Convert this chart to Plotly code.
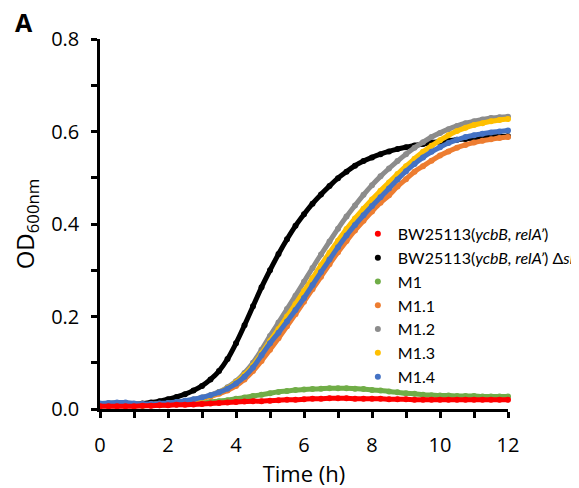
import plotly.graph_objects as go

# sampling times (h)
time_h = [0, 0.25, 0.5, 0.75, 1, 1.25, 1.5, 1.75, 2, 2.25, 2.5, 2.75, 3, 3.25, 3.5, 3.75,
          4, 4.25, 4.5, 4.75, 5, 5.25, 5.5, 5.75, 6, 6.25, 6.5, 6.75, 7, 7.25, 7.5, 7.75,
          8, 8.25, 8.5, 8.75, 9, 9.25, 9.5, 9.75, 10, 10.25, 10.5, 10.75, 11, 11.25, 11.5, 11.75, 12]

# OD600 readings per strain
od_wt = [0.006, 0.006, 0.006, 0.006, 0.006, 0.007, 0.007, 0.008, 0.008, 0.009, 0.009, 0.010, 0.011, 0.012, 0.013, 0.014,
         0.015, 0.016, 0.017, 0.017, 0.018, 0.019, 0.020, 0.020, 0.021, 0.022, 0.022, 0.023, 0.023, 0.023, 0.022, 0.022,
         0.022, 0.022, 0.021, 0.021, 0.021, 0.020, 0.020, 0.020, 0.020, 0.020, 0.020, 0.020, 0.020, 0.020, 0.020, 0.020, 0.020]
od_sltY = [0.008, 0.008, 0.008, 0.009, 0.010, 0.012, 0.014, 0.017, 0.021, 0.026, 0.032, 0.040, 0.050, 0.064, 0.082, 0.108,
           0.142, 0.181, 0.222, 0.263, 0.300, 0.335, 0.367, 0.396, 0.421, 0.444, 0.464, 0.482, 0.499, 0.513, 0.526, 0.536,
           0.544, 0.551, 0.557, 0.562, 0.566, 0.570, 0.573, 0.576, 0.578, 0.580, 0.582, 0.584, 0.586, 0.587, 0.588, 0.589, 0.590]
od_m1 = [0.007, 0.007, 0.007, 0.007, 0.007, 0.007, 0.008, 0.008, 0.009, 0.010, 0.011, 0.012, 0.013, 0.015, 0.017, 0.019,
         0.022, 0.025, 0.028, 0.031, 0.034, 0.037, 0.039, 0.041, 0.042, 0.043, 0.044, 0.045, 0.045, 0.045, 0.044, 0.043,
         0.041, 0.040, 0.038, 0.036, 0.034, 0.033, 0.031, 0.030, 0.029, 0.029, 0.028, 0.028, 0.028, 0.027, 0.027, 0.027, 0.027]
od_m11 = [0.010, 0.011, 0.012, 0.012, 0.010, 0.009, 0.009, 0.010, 0.011, 0.013, 0.016, 0.019, 0.023, 0.027, 0.033, 0.040,
          0.050, 0.064, 0.082, 0.104, 0.128, 0.153, 0.179, 0.205, 0.232, 0.259, 0.286, 0.313, 0.339, 0.363, 0.386, 0.407,
          0.427, 0.446, 0.462, 0.481, 0.497, 0.513, 0.525, 0.537, 0.548, 0.557, 0.565, 0.571, 0.576, 0.580, 0.583, 0.586, 0.588]
od_m12 = [0.011, 0.012, 0.012, 0.012, 0.011, 0.010, 0.010, 0.011, 0.012, 0.014, 0.017, 0.020, 0.025, 0.030, 0.037, 0.047,
          0.060, 0.078, 0.100, 0.128, 0.158, 0.187, 0.216, 0.245, 0.275, 0.305, 0.334, 0.362, 0.390, 0.416, 0.440, 0.463,
          0.484, 0.503, 0.520, 0.536, 0.551, 0.565, 0.577, 0.588, 0.597, 0.605, 0.612, 0.618, 0.622, 0.626, 0.629, 0.631, 0.632]
od_m13 = [0.011, 0.012, 0.013, 0.013, 0.011, 0.010, 0.010, 0.011, 0.012, 0.014, 0.017, 0.020, 0.024, 0.029, 0.036, 0.045,
          0.058, 0.074, 0.094, 0.120, 0.147, 0.173, 0.200, 0.227, 0.255, 0.283, 0.311, 0.338, 0.364, 0.389, 0.412, 0.433,
          0.453, 0.472, 0.490, 0.508, 0.525, 0.541, 0.556, 0.569, 0.581, 0.592, 0.601, 0.608, 0.614, 0.618, 0.622, 0.625, 0.627]
od_m14 = [0.012, 0.013, 0.014, 0.014, 0.012, 0.011, 0.011, 0.012, 0.013, 0.015, 0.018, 0.021, 0.025, 0.030, 0.036, 0.044,
          0.055, 0.070, 0.090, 0.116, 0.142, 0.165, 0.189, 0.214, 0.240, 0.268, 0.296, 0.323, 0.350, 0.375, 0.398, 0.419,
          0.439, 0.458, 0.477, 0.496, 0.514, 0.530, 0.544, 0.556, 0.566, 0.575, 0.582, 0.588, 0.592, 0.595, 0.598, 0.600, 0.602]

names = ["BW25113(<i>ycbB, relA’</i>)", "BW25113(<i>ycbB, relA’</i>) Δ<i>sltY</i>",
         "M1", "M1.1", "M1.2", "M1.3", "M1.4"]
series = [od_wt, od_sltY, od_m1, od_m11, od_m12, od_m13, od_m14]
colors = ["#FF0000", "#000000", "#70AD47", "#ED7D31", "#8C8C8C", "#FFC000", "#4472C4"]
draw_order = [2, 1, 3, 4, 5, 6, 0]

fig = go.Figure()
for i in draw_order:
    fig.add_trace(go.Scatter(x=time_h, y=series[i], mode="lines", line_shape="spline",
                             line=dict(color=colors[i], width=5), showlegend=False,
                             legendgroup=str(i), cliponaxis=False, hoverinfo="skip"))
    fig.add_trace(go.Scatter(x=time_h, y=series[i], mode="markers", name=names[i],
                             marker=dict(color=colors[i], size=6), legendgroup=str(i),
                             legendrank=i + 1, cliponaxis=False))

axis_common = dict(showline=True, linecolor="black", linewidth=2.5, ticks="outside",
                   ticklen=6, tickwidth=2.5, tickcolor="black", showgrid=False, zeroline=False,
                   automargin=False,
                   tickfont=dict(family="Open Sans", size=20, color="black"))

fig.update_xaxes(range=[0, 12], dtick=2, tick0=0, ticklabelstandoff=10,
                 minor=dict(dtick=1, ticks="outside", ticklen=6, tickwidth=2.5, tickcolor="black"),
                 title=dict(text="Time (h)", font=dict(family="Open Sans", size=22, color="black"), standoff=11),
                 **axis_common)
fig.update_yaxes(range=[0, 0.8], dtick=0.2, tick0=0, tickformat=".1f", ticklabelstandoff=8,
                 minor=dict(dtick=0.1, ticks="outside", ticklen=6, tickwidth=2.5, tickcolor="black"),
                 title=dict(text="OD<sub>600nm</sub>", font=dict(family="Open Sans", size=24, color="black"), standoff=20),
                 **axis_common)

fig.add_annotation(text="<b>A</b>", xref="paper", yref="paper", x=-0.186, y=1.046,
                   xanchor="center", yanchor="middle", showarrow=False,
                   font=dict(family="Open Sans", size=25, color="black"))

# page has an 8px body margin; the figure runs past the window on the right
# so the long legend entry is cut by the window edge like in the original
fig.update_layout(
    width=640, height=480,
    margin=dict(l=92, r=140, t=31, b=79),
    plot_bgcolor="white", paper_bgcolor="white",
    legend=dict(x=0.632, y=0.519, xanchor="left", yanchor="top", bgcolor="rgba(0,0,0,0)",
                font=dict(family="Lato", size=16, color="black"), tracegroupgap=0,
                itemwidth=30),
)

fig.write_html("out.html")
